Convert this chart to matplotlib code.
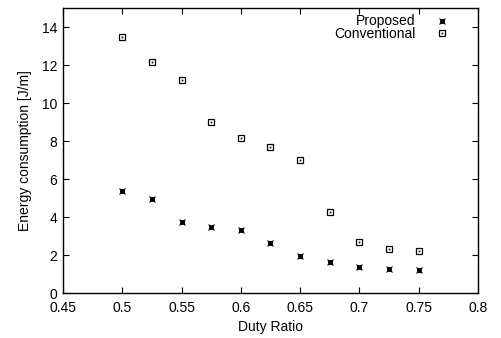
import matplotlib.pyplot as plt
from matplotlib.lines import Line2D

plt.rcParams['font.family'] = ['Liberation Sans', 'DejaVu Sans']
plt.rcParams['font.size'] = 10

duty = [0.5, 0.525, 0.55, 0.575, 0.6, 0.625, 0.65, 0.675, 0.7, 0.725, 0.75]
proposed = [5.38, 4.95, 3.72, 3.49, 3.30, 2.62, 1.95, 1.63, 1.37, 1.26, 1.21]
conventional = [13.49, 12.18, 11.19, 9.00, 8.16, 7.70, 7.02, 4.28, 2.70, 2.30, 2.23]

xticks = [0.45, 0.5, 0.55, 0.6, 0.65, 0.7, 0.75, 0.8]
xticklabels = ['0.45', '0.5', '0.55', '0.6', '0.65', '0.7', '0.75', '0.8']
yticks = [0, 2, 4, 6, 8, 10, 12, 14]

fig = plt.figure(figsize=(5.01, 3.38), dpi=100)
ax = fig.add_axes([0.1257, 0.1331, 0.9541 - 0.1257, 0.976 - 0.1331])

# proposed: small filled square with a cross
ax.plot(duty, proposed, ls='none', marker='s', ms=3.2, mfc='black', mec='black', mew=0.6)
ax.plot(duty, proposed, ls='none', marker='x', ms=4, mec='black', mew=0.8)
# conventional: open square with a dot inside
ax.plot(duty, conventional, ls='none', marker='s', ms=4.2, mfc='white', mec='black', mew=0.9)
ax.plot(duty, conventional, ls='none', marker='s', ms=1.2, mfc='black', mec='black', mew=0)

ax.set_xlim(0.45, 0.8)
ax.set_ylim(0, 15)
ax.set_xticks(xticks)
ax.set_xticklabels(xticklabels)
ax.set_yticks(yticks)
ax.tick_params(direction='in', top=True, right=True, length=4, width=0.8, labelsize=10)
ax.tick_params(axis='x', pad=6)
ax.tick_params(axis='y', pad=4)
for s in ax.spines.values():
    s.set_linewidth(1.0)

ax.set_xlabel('Duty Ratio', fontsize=10, labelpad=3)
ax.set_ylabel('Energy consumption [J/m]', fontsize=10, labelpad=7)

h1 = (Line2D([], [], ls='none', marker='s', ms=3.2, mfc='black', mec='black', mew=0.6),
      Line2D([], [], ls='none', marker='x', ms=4, mec='black', mew=0.8))
h2 = (Line2D([], [], ls='none', marker='s', ms=4.2, mfc='white', mec='black', mew=0.9),
      Line2D([], [], ls='none', marker='s', ms=1.2, mfc='black', mec='black', mew=0))
ax.legend([h1, h2], ['Proposed', 'Conventional'], loc='upper right',
          bbox_to_anchor=(461 / 501, 1.0 - 2 / 338), bbox_transform=fig.transFigure,
          markerfirst=False, frameon=False, fontsize=10, handlelength=1.0,
          handletextpad=1.37, labelspacing=-0.1, borderpad=0.4)

fig.savefig('out.png', dpi=100)
